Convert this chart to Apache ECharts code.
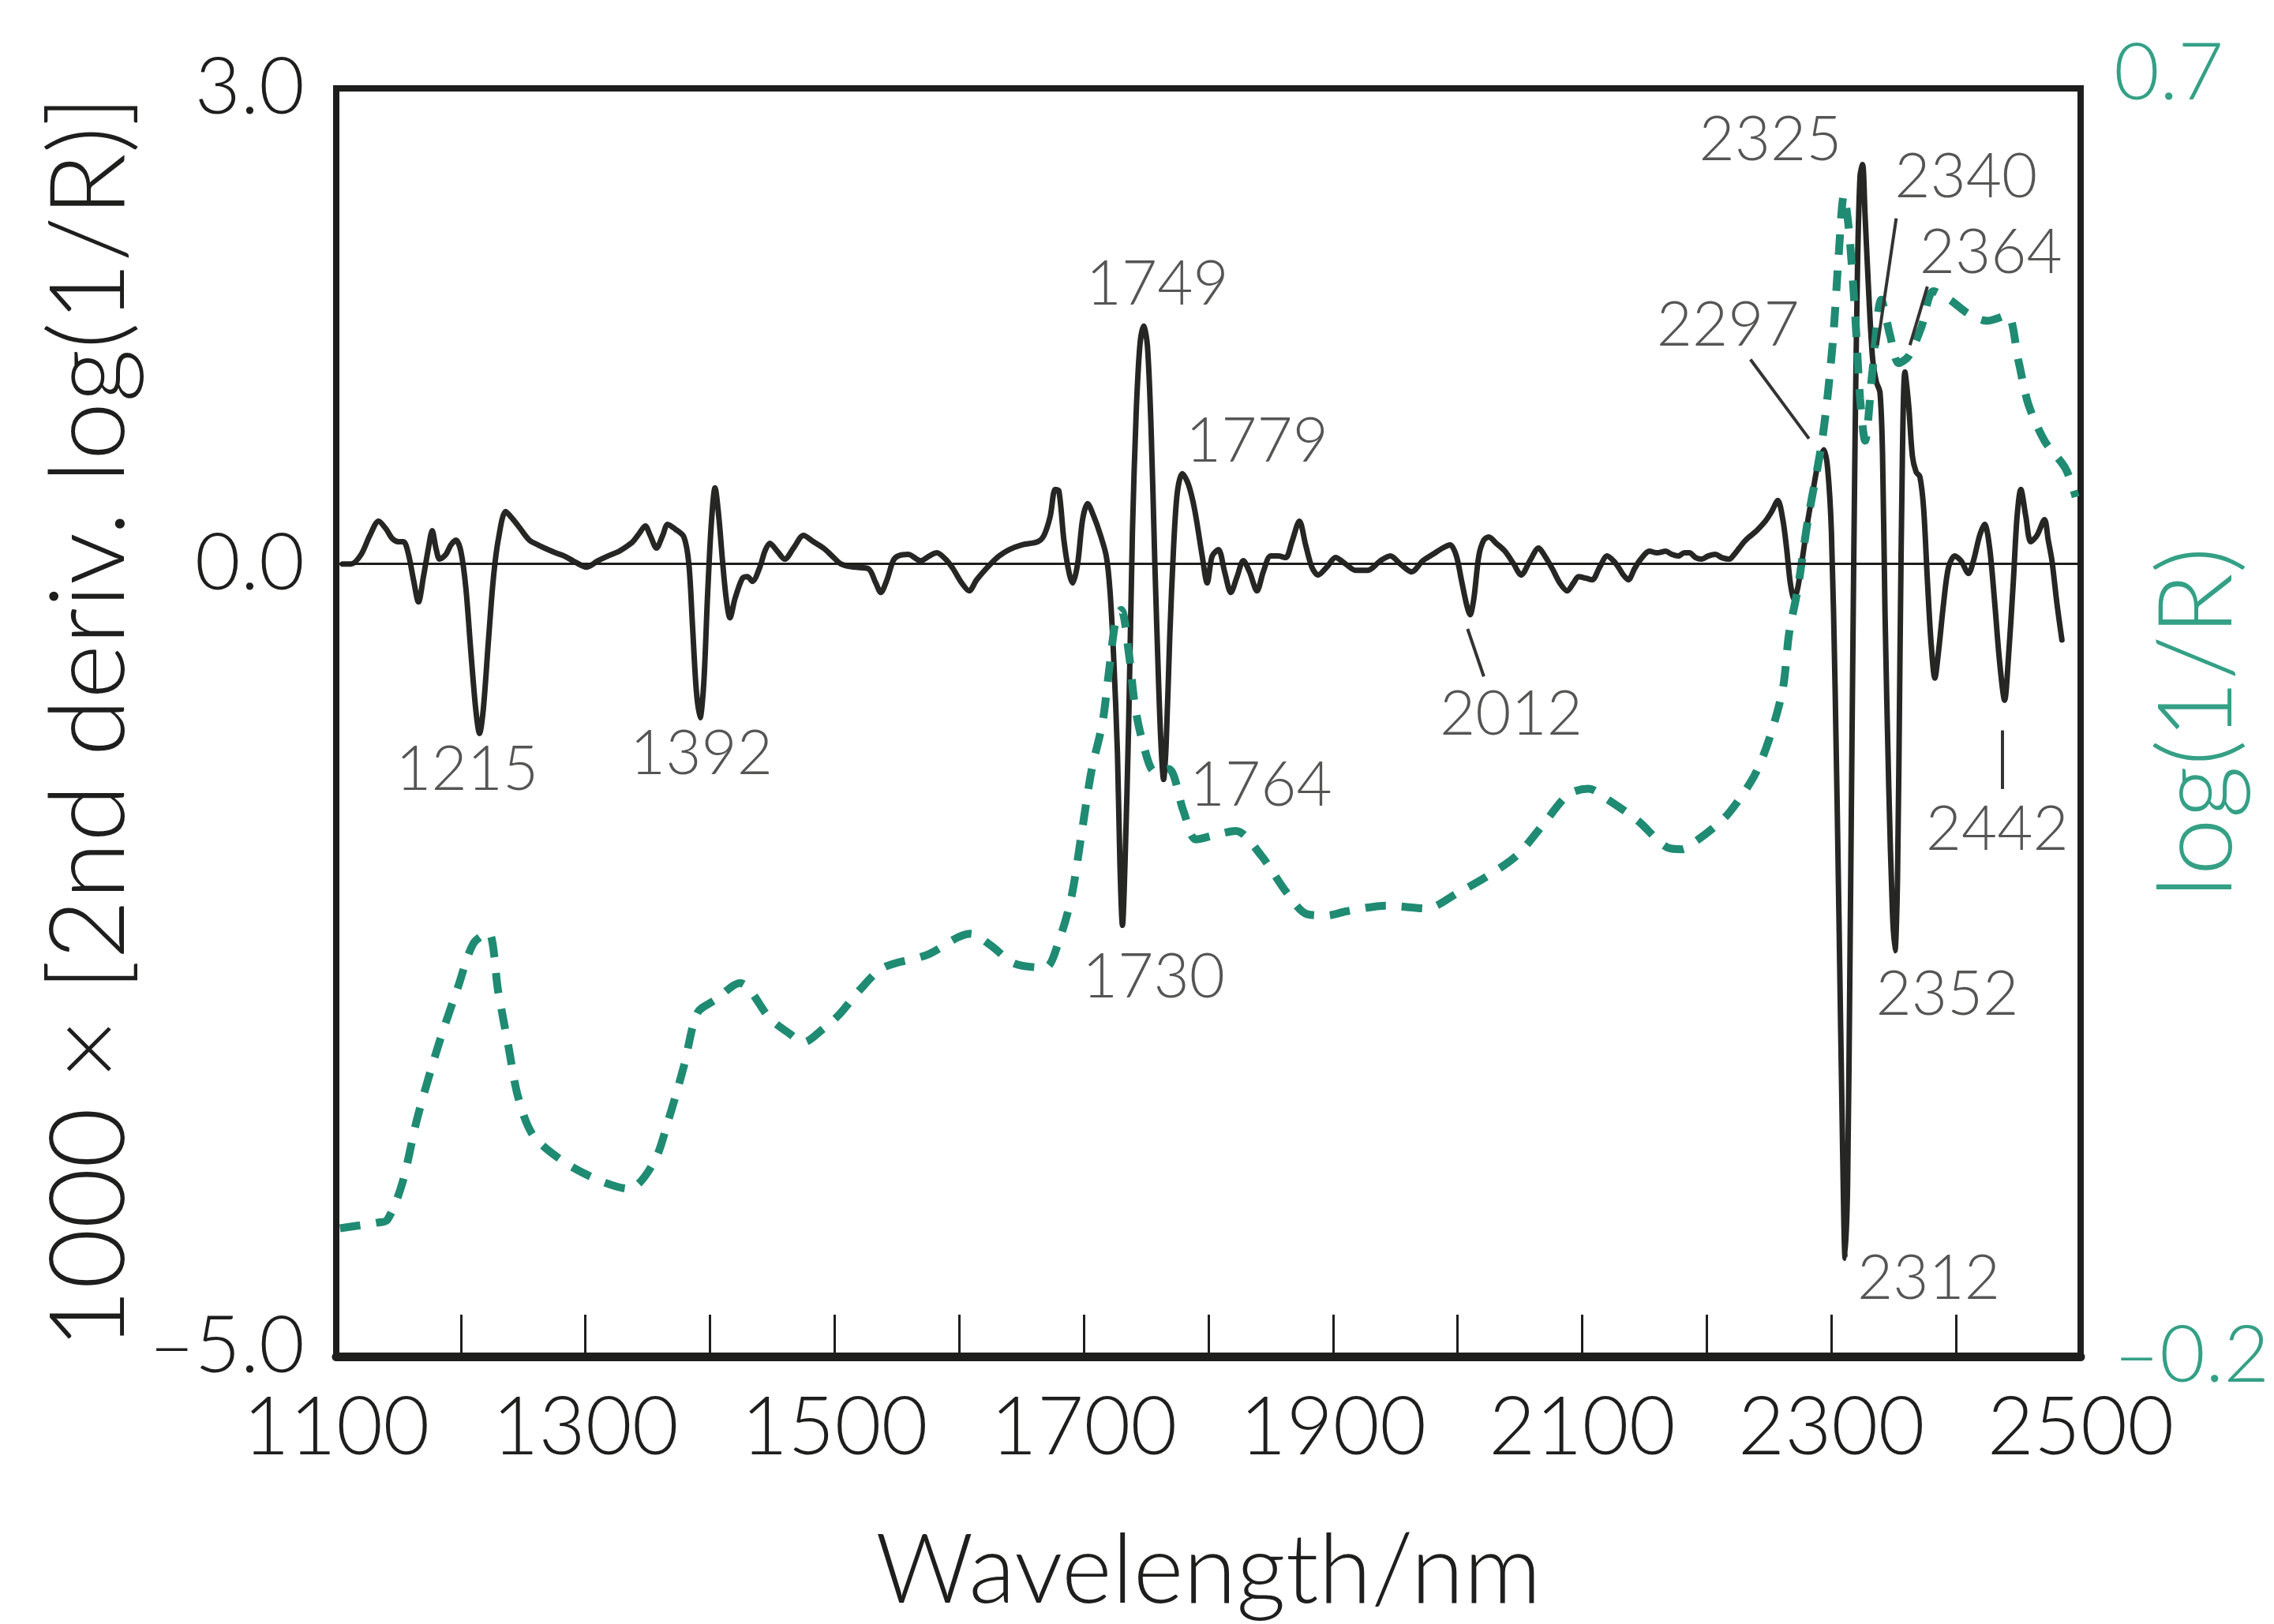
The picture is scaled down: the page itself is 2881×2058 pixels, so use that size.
<!DOCTYPE html>
<html><head><meta charset="utf-8">
<script src="https://cdn.jsdelivr.net/npm/echarts@6/dist/echarts.min.js"></script>
<style>html,body{margin:0;padding:0;background:#fff}#c{width:2881px;height:2058px}</style>
</head><body><div id="c"></div>
<script>
// ---- data: 2nd derivative spectrum (left axis) ----
const derivWl = [1105,1112,1120,1127,1134,1140,1145,1150,1154,1158,1162,1166,1170,1174,1177,1180,1183,1188,1192,1196,1200,1204,1208,1212,1215,1218,1222,1226,1230,1236,1242,1247,1255,1262,1270,1276,1283,1290,1301,1310,1318,1327,1333,1338,1343,1348,1352,1357,1362,1366,1372,1379,1383,1386,1389,1392,1395,1398,1401,1404,1407,1410,1413,1416,1420,1426,1430,1434,1440,1444,1448,1454,1460,1467,1475,1483,1491,1498,1505,1515,1527,1533,1537,1542,1547,1551,1559,1569,1576,1582,1589,1595,1602,1608,1614,1624,1632,1640,1650,1663,1668,1673,1677,1680,1684,1688,1691,1695,1699,1703,1708,1713,1718,1721,1724,1727,1729,1731,1733,1736,1739,1742,1745,1748,1751,1754,1757,1760,1762,1764,1766,1769,1772,1775,1779,1784,1789,1795,1799,1803,1808,1813,1818,1823,1828,1833,1839,1844,1850,1856,1862,1867,1873,1878,1883,1888,1895,1902,1910,1918,1928,1938,1946,1954,1963,1972,1980,1988,1994,1999,2003,2007,2010,2013,2017,2021,2025,2031,2038,2045,2051,2058,2065,2070,2076,2082,2088,2093,2097,2103,2108,2114,2120,2125,2129,2133,2137,2142,2146,2154,2160,2167,2172,2177,2182,2186,2191,2196,2201,2207,2212,2218,2222,2226,2230,2234,2240,2247,2252,2257,2261,2264,2267,2270,2273,2277,2281,2285,2289,2294,2297,2300,2303,2306,2309,2311,2313,2315,2317,2319,2321,2323,2325,2327,2330,2333,2336,2339,2341,2343,2346,2349,2351,2353,2355,2357,2359,2362,2365,2368,2371,2374,2377,2380,2383,2386,2390,2394,2399,2404,2410,2414,2419,2423,2427,2431,2435,2439,2442,2446,2449,2452,2456,2460,2465,2471,2474,2477,2481,2485];
const derivVal = [0.0,0.0,0.06,0.18,0.27,0.22,0.16,0.14,0.14,0.06,-0.10,-0.24,-0.08,0.10,0.21,0.10,0.03,0.06,0.12,0.15,0.08,-0.15,-0.55,-0.92,-1.07,-0.92,-0.50,-0.10,0.15,0.33,0.28,0.23,0.15,0.12,0.09,0.07,0.05,0.02,-0.02,0.02,0.05,0.08,0.11,0.14,0.19,0.24,0.18,0.10,0.18,0.25,0.22,0.17,0.0,-0.40,-0.80,-0.97,-0.75,-0.20,0.25,0.48,0.30,0.02,-0.22,-0.34,-0.22,-0.09,-0.08,-0.11,-0.02,0.08,0.13,0.08,0.03,0.10,0.18,0.14,0.10,0.05,0.0,-0.02,-0.03,-0.12,-0.18,-0.10,0.02,0.05,0.06,0.02,0.05,0.07,0.03,-0.03,-0.12,-0.17,-0.10,-0.01,0.05,0.09,0.12,0.14,0.18,0.30,0.47,0.46,0.15,-0.05,-0.12,0.0,0.28,0.38,0.30,0.19,0.05,-0.17,-0.60,-1.20,-1.90,-2.28,-1.90,-1.00,0.20,0.95,1.38,1.50,1.38,0.85,0.0,-0.75,-1.15,-1.36,-1.15,-0.45,0.10,0.45,0.57,0.50,0.34,0.05,-0.12,0.05,0.09,-0.05,-0.18,-0.08,0.02,-0.05,-0.17,-0.05,0.05,0.05,0.04,0.14,0.27,0.12,-0.02,-0.07,-0.02,0.04,0.0,-0.04,-0.04,0.02,0.05,0.0,-0.05,0.02,0.06,0.10,0.12,0.05,-0.10,-0.25,-0.32,-0.22,0.05,0.15,0.17,0.13,0.08,0.0,-0.07,0.02,0.10,0.05,-0.03,-0.12,-0.17,-0.12,-0.08,-0.09,-0.10,-0.02,0.05,0.02,-0.02,-0.07,-0.10,-0.03,0.02,0.08,0.07,0.08,0.06,0.05,0.07,0.07,0.04,0.03,0.05,0.06,0.04,0.03,0.06,0.10,0.14,0.17,0.21,0.27,0.33,0.40,0.28,0.10,-0.12,-0.22,-0.15,0.05,0.27,0.45,0.62,0.72,0.60,0.20,-0.80,-2.20,-3.70,-4.38,-3.90,-2.40,-0.70,0.80,1.90,2.45,2.52,2.20,1.70,1.30,1.15,1.08,0.70,-0.30,-1.40,-2.20,-2.44,-2.00,-0.60,0.70,1.21,1.00,0.68,0.58,0.55,0.35,-0.10,-0.50,-0.72,-0.55,-0.25,-0.02,0.05,0.02,-0.06,0.02,0.18,0.25,0.10,-0.24,-0.62,-0.86,-0.60,-0.11,0.30,0.47,0.30,0.14,0.18,0.28,0.15,0.02,-0.25,-0.48];

// ---- data: log(1/R) spectrum (right axis) ----
const logRWl = [1103,1133,1141,1153,1165,1182,1198,1210,1222,1230,1238,1246,1258,1283,1311,1335,1355,1367,1379,1390,1404,1424,1448,1464,1475,1490,1504,1520,1539,1574,1609,1625,1644,1669,1680,1690,1698,1706,1715,1720,1726,1730,1736,1741,1747,1757,1768,1780,1790,1805,1822,1842,1863,1879,1895,1911,1943,1975,2000,2024,2048,2069,2089,2105,2121,2145,2169,2180,2190,2205,2218,2238,2250,2261,2266,2273,2281,2293,2301,2306,2310,2314,2319,2323,2327,2333,2340,2347,2354,2362,2372,2382,2395,2410,2425,2441,2450,2458,2471,2488,2496];
const logRVal = [-0.109,-0.105,-0.103,-0.077,-0.031,0.021,0.063,0.093,0.101,0.059,0.021,-0.016,-0.043,-0.062,-0.075,-0.081,-0.062,-0.031,0.006,0.044,0.053,0.065,0.040,0.029,0.023,0.032,0.043,0.060,0.076,0.085,0.100,0.092,0.079,0.076,0.095,0.126,0.170,0.215,0.250,0.285,0.325,0.330,0.300,0.262,0.237,0.215,0.217,0.187,0.167,0.170,0.173,0.156,0.129,0.114,0.113,0.116,0.120,0.118,0.129,0.141,0.156,0.178,0.199,0.203,0.195,0.180,0.161,0.160,0.165,0.175,0.186,0.212,0.238,0.274,0.313,0.345,0.393,0.453,0.519,0.584,0.624,0.600,0.540,0.480,0.450,0.500,0.550,0.525,0.505,0.510,0.530,0.556,0.550,0.540,0.535,0.539,0.507,0.476,0.450,0.430,0.410];

// ---- annotation texts and their anchor (data units) ----
const peakLabels   = ['1215','1392','1749','1779','1764','1730','2012','2297','2325','2340','2364','2442','2352','2312'];
const peakLabelWl  = [1205,1393,1759,1839,1842,1756,2043,2217,2251,2408,2428,2433,2393,2378];
const peakLabelVal = [-1.30,-1.20,1.76,0.77,-1.40,-2.61,-0.95,1.50,2.67,2.44,1.96,-1.68,-2.72,-4.51];
// leader lines (data units)
const leaderFrom = [[2008,-0.41],[2235,1.29],[2352,2.18],[2377,1.75],[2437,-1.05]];
const leaderTo   = [[2021,-0.71],[2282,0.79],[2337,1.38],[2363,1.38],[2437,-1.42]];

// tick labels
const leftTickLabels  = {'3':'3.0','0':'0.0','-5':'–5.0'};
const xLabelStep = 200;

const INK = '#1e1e1c';
const GREEN = '#1f8b72';
const GREEN_TXT = '#34a086';
const FONT = 'Lato';
const FW = 300;

const chart = echarts.init(document.getElementById('c'), null, {renderer:'canvas'});
const option = {
  animation: false,
  backgroundColor: '#ffffff',
  textStyle: {fontFamily: FONT, fontWeight: FW},
  grid: {left: 426, right: 245, top: 112, bottom: 339, containLabel: false, outerBoundsMode: 'none',
    show: true, borderColor: INK, borderWidth: 8, backgroundColor: 'transparent'},
  xAxis: {
    type: 'value', min: 1100, max: 2500, interval: 100,
    axisLine: {show: true, onZero: false, lineStyle: {color: INK, width: 11}},
    axisTick: {show: true, inside: true, length: 53, lineStyle: {color: INK, width: 3}},
    splitLine: {show: false},
    axisLabel: {margin: 40, fontSize: 102, color: INK, fontFamily: FONT, fontWeight: FW,
      formatter: v => ((v - 1100) % xLabelStep === 0 ? String(v) : '')},
    name: 'Wavelength/nm', nameLocation: 'middle', nameGap: 212, nameMoveOverlap: false,
    nameTextStyle: {fontSize: 122, color: INK, fontFamily: FONT, fontWeight: FW}
  },
  yAxis: [{
    type: 'value', min: -5, max: 3, interval: 1,
    axisLine: {show: false}, axisTick: {show: false}, splitLine: {show: false},
    axisLabel: {margin: 40, fontSize: 100, color: INK, fontFamily: FONT, fontWeight: FW,
      formatter: v => {const k = String(Math.round(v)); if (!(k in leftTickLabels)) return ''; return k === '-5' ? '{lo|' + leftTickLabels[k] + '}' : leftTickLabels[k];},
      rich: {lo: {fontSize: 100, color: INK, fontFamily: FONT, fontWeight: FW, padding: [0, 0, 24, 0]}}},
    name: '1000 × [2nd deriv. log(1/R)]', nameLocation: 'middle', nameGap: 246, nameMoveOverlap: false,
    nameTextStyle: {fontSize: 132, color: INK, fontFamily: FONT, fontWeight: FW}
  }, {
    type: 'value', position: 'right', min: -0.2, max: 0.7, interval: 0.1,
    axisLine: {show: false}, axisTick: {show: false}, splitLine: {show: false},
    axisLabel: {margin: 42, fontSize: 100, color: GREEN_TXT, fontFamily: FONT, fontWeight: FW,
      formatter: v => {
        if (Math.abs(v - 0.7) < 1e-6) return '{hi|0.7}';
        if (Math.abs(v + 0.2) < 1e-6) return '–0.2';
        return '';
      },
      rich: {hi: {fontSize: 100, color: GREEN_TXT, fontFamily: FONT, fontWeight: FW, padding: [0, 0, 36, 0]}}},
    name: 'log(1/R)', nameLocation: 'middle', nameGap: 84, nameMoveOverlap: false,
    nameTextStyle: {fontSize: 130, color: GREEN_TXT, fontFamily: FONT, fontWeight: FW}
  }],
  series: [{
    type: 'line', name: 'deriv', yAxisIndex: 0, z: 3,
    data: derivWl.map((w, i) => [w, derivVal[i]]),
    showSymbol: false, smooth: 0.3,
    lineStyle: {color: '#262624', width: 7, join: 'round', cap: 'round'},
    markLine: {silent: true, symbol: ['none', 'none'], animation: false,
      lineStyle: {color: INK, width: 3, type: 'solid'}, label: {show: false},
      data: [{yAxis: 0}]}
  }, {
    type: 'line', name: 'logR', yAxisIndex: 1, z: 4,
    data: logRWl.map((w, i) => [w, logRVal[i]]),
    showSymbol: false, smooth: 0.3,
    lineStyle: {color: GREEN, width: 10, type: [26, 20], cap: 'butt'}
  }, {
    type: 'lines', coordinateSystem: 'cartesian2d', xAxisIndex: 0, yAxisIndex: 0, z: 5,
    data: leaderFrom.map((p, i) => ({coords: [p, leaderTo[i]]})),
    lineStyle: {color: '#333331', width: 4, opacity: 1}, silent: true
  }, {
    type: 'scatter', yAxisIndex: 0, z: 6, symbolSize: 1,
    itemStyle: {color: 'rgba(0,0,0,0)'},
    data: peakLabels.map((t, i) => [peakLabelWl[i], peakLabelVal[i], t]),
    label: {show: true, position: 'inside', fontSize: 78, color: '#2a2a28', fontFamily: FONT, fontWeight: FW,
      formatter: p => p.value[2]},
    labelLayout: {hideOverlap: false},
    silent: true
  }]
};
chart.setOption(option);
</script></body></html>
